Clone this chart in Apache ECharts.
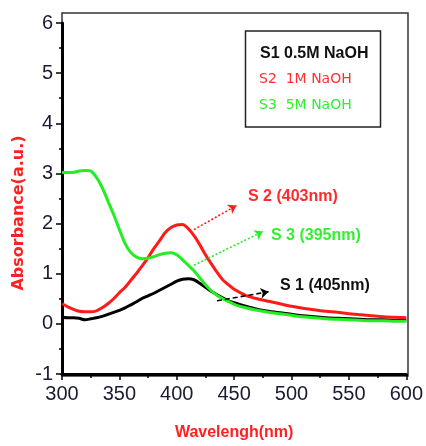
<!DOCTYPE html>
<html>
<head>
<meta charset="utf-8">
<script src="https://cdn.jsdelivr.net/npm/echarts@6/dist/echarts.min.js"></script>
<style>
html,body{margin:0;padding:0;background:#fff;}
#chart{width:426px;height:446px;}
</style>
</head>
<body>
<div id="chart"></div>
<script>
// Wavelength grid (nm)
var wavelengths = [300,305,310,315,320,325,330,335,340,345,350,355,360,365,370,375,380,385,390,395,400,405,410,415,420,425,430,435,440,445,450,460,470,480,490,500,510,520,530,540,550,560,570,580,590,600];
// S1 0.5M NaOH (black)
var s1 = [0.13,0.12,0.12,0.11,0.08,0.10,0.12,0.15,0.19,0.23,0.27,0.32,0.38,0.44,0.51,0.56,0.61,0.67,0.73,0.79,0.85,0.89,0.90,0.88,0.81,0.73,0.65,0.58,0.52,0.46,0.42,0.35,0.29,0.25,0.22,0.19,0.16,0.14,0.12,0.11,0.10,0.09,0.08,0.08,0.07,0.07];
// S2 1M NaOH (red)
var s2 = [0.40,0.34,0.29,0.25,0.24,0.24,0.26,0.32,0.40,0.50,0.62,0.73,0.87,1.01,1.16,1.32,1.50,1.66,1.82,1.92,1.97,1.98,1.90,1.76,1.58,1.38,1.20,1.03,0.88,0.78,0.69,0.57,0.50,0.45,0.40,0.35,0.31,0.28,0.25,0.23,0.20,0.18,0.16,0.14,0.13,0.12];
// S3 5M NaOH (green)
var s3 = [3.02,3.02,3.02,3.05,3.06,3.05,2.92,2.72,2.45,2.18,1.88,1.60,1.42,1.33,1.30,1.31,1.34,1.38,1.41,1.42,1.38,1.28,1.17,1.06,0.92,0.78,0.66,0.57,0.50,0.45,0.39,0.32,0.27,0.23,0.20,0.17,0.14,0.12,0.10,0.09,0.08,0.07,0.06,0.06,0.05,0.05];
// Axis ticks
var xTicks = {min:300, max:600, interval:50};
var yTicks = {min:-1, max:6, interval:1};
// Annotation arrows: [startX, startY, endX, endY]
var arrowS2 = [415, 1.88, 452, 2.36];
var arrowS3 = [415, 1.17, 475, 1.84];
var arrowS1 = [435, 0.46, 480, 0.64];
var legendLines = ['S1 0.5M NaOH', 'S2  1M NaOH', 'S3  5M NaOH'];
var peakLabels = ['S 2 (403nm)', 'S 3 (395nm)', 'S 1 (405nm)'];

function pairs(ys){ return wavelengths.map(function(x,i){ return [x, ys[i]]; }); }
function arrow(a, color, type){
  return {
    silent:true, symbol:['none','arrow'], symbolSize:8,
    label:{show:false},
    emphasis:{disabled:true},
    lineStyle:{color:color, width:1.6, type:type},
    itemStyle:{color:color},
    data:[[{coord:[a[0],a[1]]},{coord:[a[2],a[3]]}]]
  };
}

var chart = echarts.init(document.getElementById('chart'), null, {renderer:'canvas'});
var tickFont = {fontFamily:'Liberation Sans, Arial, sans-serif', fontSize:20, color:'#1a1a33'};
var option = {
  animation:false,
  backgroundColor:'#fff',
  grid:{left:62, right:18, top:23, bottom:70},
  xAxis:{
    type:'value', min:xTicks.min, max:xTicks.max, interval:xTicks.interval,
    name:'Wavelengh(nm)', nameLocation:'middle', nameGap:51,
    nameTextStyle:{fontFamily:'Liberation Sans, Arial, sans-serif', fontSize:16, fontWeight:'bold', color:'#ff2020'},
    axisLine:{show:true, onZero:false, lineStyle:{color:'#000', width:3}},
    axisTick:{show:true, length:6, lineStyle:{color:'#000', width:1.5}},
    minorTick:{show:true, splitNumber:2, length:4, lineStyle:{color:'#000', width:1.5}},
    splitLine:{show:false},
    axisLabel:Object.assign({margin:10}, tickFont)
  },
  yAxis:{
    type:'value', min:yTicks.min, max:yTicks.max, interval:yTicks.interval,
    axisLine:{show:true, onZero:false, lineStyle:{color:'#000', width:3}},
    axisTick:{show:true, length:6, lineStyle:{color:'#000', width:1.5}},
    minorTick:{show:true, splitNumber:2, length:3, lineStyle:{color:'#000', width:1.5}},
    splitLine:{show:false},
    axisLabel:Object.assign({margin:9}, tickFont)
  },
  series:[
    {name:'S1', type:'line', data:pairs(s1), showSymbol:false, smooth:0.2, z:2,
     lineStyle:{color:'#000', width:3}, itemStyle:{color:'#000'},
     markLine:arrow(arrowS1, '#000', [5,3])},
    {name:'S2', type:'line', data:pairs(s2), showSymbol:false, smooth:0.2, z:3,
     lineStyle:{color:'#ff1a1a', width:3}, itemStyle:{color:'#ff1a1a'},
     markLine:arrow(arrowS2, '#ff1a1a', [2,2])},
    {name:'S3', type:'line', data:pairs(s3), showSymbol:false, smooth:0.2, z:4,
     lineStyle:{color:'#22ee22', width:3}, itemStyle:{color:'#22ee22'},
     markLine:arrow(arrowS3, '#22ee22', [2,2])}
  ],
  graphic:[
    {type:'rect', z:-1, silent:true, shape:{x:62, y:13, width:346, height:363},
     style:{fill:'none', stroke:'#333', lineWidth:1.5}},
    {type:'rect', z:10, silent:true, shape:{x:245.5, y:31, width:135, height:96},
     style:{fill:'#fff', stroke:'#222', lineWidth:1.5}},
    {type:'text', z:11, silent:true, x:260, y:53.5,
     style:{text:legendLines[0], fill:'#111', font:'bold 16px "Liberation Sans", Arial, sans-serif', verticalAlign:'middle', align:'left'}},
    {type:'text', z:11, silent:true, x:259, y:79.5,
     style:{text:legendLines[1], fill:'#ff3030', font:'14px "DejaVu Sans", sans-serif', verticalAlign:'middle', align:'left'}},
    {type:'text', z:11, silent:true, x:259, y:105,
     style:{text:legendLines[2], fill:'#33ee33', font:'14px "DejaVu Sans", sans-serif', verticalAlign:'middle', align:'left'}},
    {type:'text', z:11, silent:true, x:248, y:197,
     style:{text:peakLabels[0], fill:'#ff2a2a', font:'bold 16px "Liberation Sans", Arial, sans-serif', verticalAlign:'middle', align:'left'}},
    {type:'text', z:11, silent:true, x:271, y:235.5,
     style:{text:peakLabels[1], fill:'#33ee33', font:'bold 16px "Liberation Sans", Arial, sans-serif', verticalAlign:'middle', align:'left'}},
    {type:'text', z:11, silent:true, x:280, y:285.5,
     style:{text:peakLabels[2], fill:'#111', font:'bold 16px "Liberation Sans", Arial, sans-serif', verticalAlign:'middle', align:'left'}},
    {type:'text', z:11, silent:true, x:18.5, y:213, rotation:Math.PI/2,
     style:{text:'Absorbance(a.u.)', fill:'#ff2020', font:'bold 16px "DejaVu Sans", sans-serif', verticalAlign:'middle', align:'center'}}
  ]
};
chart.setOption(option);
</script>
</body>
</html>
